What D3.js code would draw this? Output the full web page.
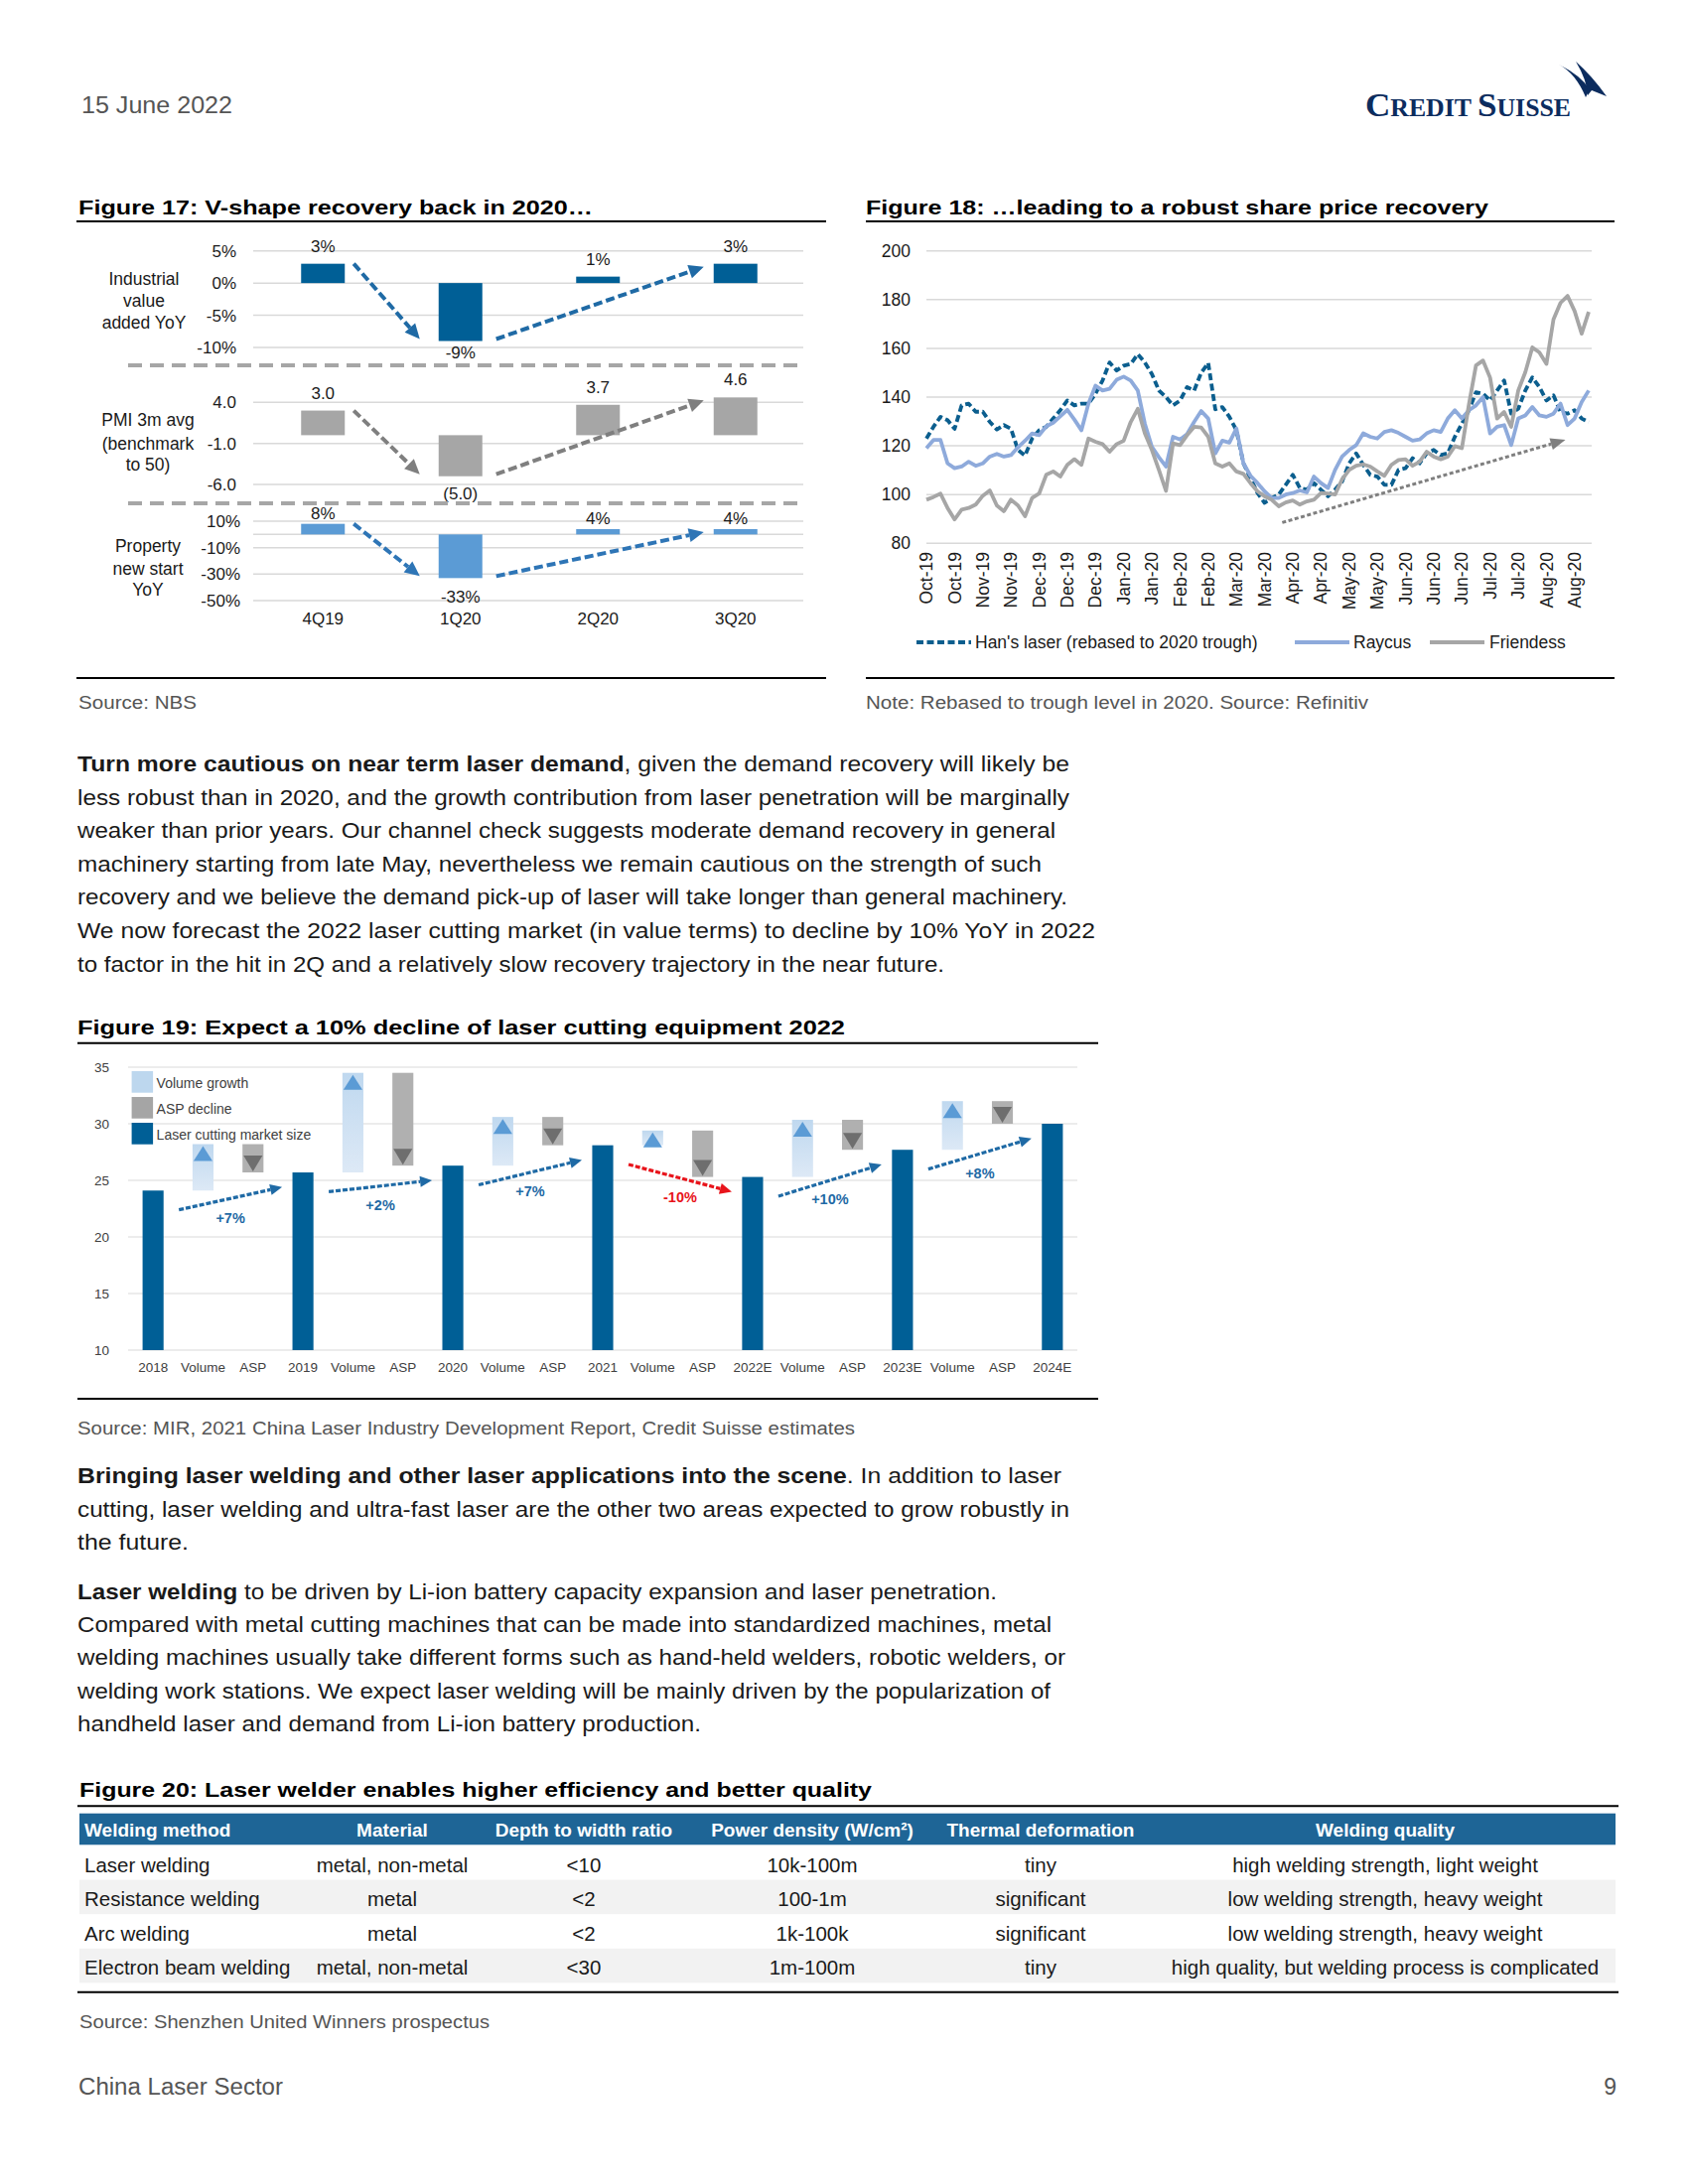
<!DOCTYPE html>
<html lang="en">
<head>
<meta charset="utf-8">
<style type="text/css">
    body { margin: 0; background: #fff; }
    svg { display: block; font-family: "Liberation Sans", Arial, sans-serif; }
    .body_text { font-size: 22px; fill: #1a1a1a; }
    .title_text { font-size: 21px; font-weight: bold; fill: #000; }
    .source_text { font-size: 18px; fill: #555; }
    .page_text { font-size: 23px; fill: #555; }
    .f17_text { font-size: 17px; fill: #1a1a1a; }
    .f18_text { font-size: 17.5px; fill: #1a1a1a; }
    .f19_text { font-size: 13.5px; fill: #404040; }
    .tbl_head { font-size: 19px; font-weight: bold; fill: #fff; }
    .tbl_cell { font-size: 20.5px; fill: #1a1a1a; }
    .logo_text { font-family: "Liberation Serif", serif; font-weight: bold; fill: #0c2c5e; }
</style>
</head>
<body>
<div id="page"></div>
<script src="https://cdnjs.cloudflare.com/ajax/libs/d3/7.8.5/d3.min.js"></script>
<script type="text/javascript">
// ---- Figure 17 data
var fig17Quarters = ["4Q19", "1Q20", "2Q20", "3Q20"];
var industrialYoY = [3, -9, 1, 3];
var pmi3mAvg = [3.0, -5.0, 3.7, 4.6];
var propertyYoY = [8, -33, 4, 4];

// ---- Figure 18 data (rebased share prices, sampled along the x axis)
var dateTicks = ["Oct-19", "Oct-19", "Nov-19", "Nov-19", "Dec-19", "Dec-19", "Dec-19", "Jan-20", "Jan-20",
    "Feb-20", "Feb-20", "Mar-20", "Mar-20", "Apr-20", "Apr-20", "May-20", "May-20", "Jun-20", "Jun-20",
    "Jun-20", "Jul-20", "Jul-20", "Aug-20", "Aug-20"];
var hansLaser = [123, 127.8, 131.9, 130.5, 127, 136.6, 137.3, 134, 134, 129.8, 126.7, 128.5, 127, 118.3, 116,
    123, 126.4, 127.8, 131.2, 134.6, 138.6, 136.6, 137.3, 137.3, 141.4, 146.8, 154.2, 150.9, 152.9, 153.6,
    157.6, 154.2, 149.5, 142.7, 140, 136.6, 138.6, 144.1, 142.7, 150, 154, 135, 135.9, 131.9, 126.4, 112.8,
    106.7, 100.6, 96.6, 98.6, 100, 104, 108.1, 102.7, 102, 104.7, 102, 99.3, 102, 105.4, 112.8, 116.9, 112.2,
    108.1, 107.4, 104, 104, 110.1, 110.8, 114.9, 112.8, 116.9, 118.3, 116.2, 116.9, 123.7, 129.1, 134.6, 142,
    141.4, 138.6, 142.7, 146.8, 133.2, 135.2, 142.7, 148.1, 144.1, 138.6, 140.7, 133.9, 133.2, 134.6, 131.2, 129.8];
var raycus = [119, 122.4, 122.4, 112.8, 110.8, 111.5, 113.5, 111.8, 112.8, 115.6, 116.7, 115.6, 116.2, 119.4,
    122.1, 125.1, 124.4, 128, 129.5, 132.1, 134.8, 130.8, 126.4, 137.3, 144.7, 142.7, 143.4, 147.1, 148.4, 146.8,
    142.7, 129.1, 119.6, 115.3, 111.5, 123.7, 122.6, 124.8, 129.8, 134.3, 131.2, 116.9, 122.1, 121.3, 127.1,
    112.8, 107.7, 104.7, 101.3, 98.6, 98.6, 100, 100.6, 101.7, 100.9, 107.4, 104.7, 102.7, 110.1, 115.6, 118.3,
    120.3, 125.1, 123.7, 123, 125.7, 126.4, 125.3, 123.7, 122.1, 122.6, 125.1, 126.4, 125.7, 131.2, 134.6, 131.2,
    134.6, 136.6, 140, 125.1, 127.8, 128.5, 120.3, 131.2, 132.5, 135.9, 132.5, 131.9, 133.2, 137.3, 128.5, 131.2,
    138, 142.7];
var friendess = [97.9, 99, 100.4, 94.5, 89.8, 93.8, 94.5, 95.9, 99.5, 101.7, 95.5, 93.2, 97.9, 95.5, 91.1, 98.6,
    100.4, 108.1, 109.5, 107.4, 112.2, 114.5, 112.2, 123, 121.7, 120.7, 117.6, 120.7, 122.1, 129.8, 135.2, 125.1,
    118.3, 110.1, 101.5, 121, 120.3, 124.4, 127.8, 127.5, 123.7, 112.8, 111.5, 112.8, 109.5, 108.5, 104.7, 101.3,
    99.3, 97.9, 95.2, 96.8, 97.6, 95.9, 97.2, 97.9, 100.6, 100.4, 100, 106.3, 110.1, 111.8, 112.4, 111.5, 109.5,
    107.7, 112.2, 114.2, 114.5, 111.8, 113.5, 117.6, 115.6, 114.5, 115.6, 119.9, 119, 137, 153, 155, 148, 131.2,
    133.9, 127.8, 142.7, 150.2, 160.4, 158.3, 153.6, 171.9, 178.7, 181.5, 175.3, 166, 175];
var trendFrom = [50.5, 88.5];   // [index, value]
var trendTo = [90.7, 122.5];

// ---- Figure 19 data (RMB bn)
var fig19Categories = ["2018", "Volume", "ASP", "2019", "Volume", "ASP", "2020", "Volume", "ASP", "2021",
    "Volume", "ASP", "2022E", "Volume", "ASP", "2023E", "Volume", "ASP", "2024E"];
var marketSize = [24.1, 25.7, 26.3, 28.1, 25.3, 27.7, 30.0];
var volumeTop = [28.2, 34.5, 30.6, 29.4, 30.35, 32.0];
var growthLabels = ["+7%", "+2%", "+7%", "-10%", "+10%", "+8%"];

// ---- Figure 20 data
var tableColumns = ["Welding method", "Material", "Depth to width ratio", "Power density (W/cm²)",
    "Thermal deformation", "Welding quality"];
var tableRows = [
    ["Laser welding", "metal, non-metal", "<10", "10k-100m", "tiny", "high welding strength, light weight"],
    ["Resistance welding", "metal", "<2", "100-1m", "significant", "low welding strength, heavy weight"],
    ["Arc welding", "metal", "<2", "1k-100k", "significant", "low welding strength, heavy weight"],
    ["Electron beam welding", "metal, non-metal", "<30", "1m-100m", "tiny", "high quality, but welding process is complicated"]
];

var svg = d3.select("#page").append("svg")
    .attr("width", 1700)
    .attr("height", 2200);
svg.append("rect").attr("width", 1700).attr("height", 2200).attr("fill", "#fff");

function textLine(x, y, parts, width, cls) {
    var t = svg.append("text").attr("x", x).attr("y", y).attr("class", cls);
    parts.forEach(function(p) {
        t.append("tspan").text(p[0]).style("font-weight", p[1] ? "bold" : null);
    });
    if (width) t.attr("textLength", width).attr("lengthAdjust", "spacingAndGlyphs");
    return t;
}
function rule(x1, x2, y) {
    svg.append("line").attr("x1", x1).attr("x2", x2).attr("y1", y).attr("y2", y)
        .attr("stroke", "#000").attr("stroke-width", 2);
}
function arrow(g, x1, y1, x2, y2, color, w, dash, hl, hw) {
    var a = Math.atan2(y2 - y1, x2 - x1);
    var bx = x2 - hl * Math.cos(a), by = y2 - hl * Math.sin(a);
    g.append("line").attr("x1", x1).attr("y1", y1).attr("x2", bx).attr("y2", by)
        .attr("stroke", color).attr("stroke-width", w).attr("stroke-dasharray", dash);
    var px = -Math.sin(a) * hw / 2, py = Math.cos(a) * hw / 2;
    g.append("path")
        .attr("d", "M" + x2 + "," + y2 + "L" + (bx + px) + "," + (by + py) + "L" + (bx - px) + "," + (by - py) + "Z")
        .attr("fill", color);
}
function oneDec(d) { return d.toFixed(1); }

// ---- page header / footer
textLine(82, 114, [["15 June 2022"]], 152, "page_text");
var logo = svg.append("text").attr("x", 1375).attr("y", 117).attr("class", "logo_text")
    .attr("textLength", 207).attr("lengthAdjust", "spacingAndGlyphs");
[["C", 34], ["REDIT ", 25], ["S", 34], ["UISSE", 25]].forEach(function(p) {
    logo.append("tspan").text(p[0]).style("font-size", p[1] + "px");
});
svg.append("path").attr("fill", "#0c2c5e")
    .attr("d", "M1570,65 Q1587,74 1597,98 L1601,90 Q1592,76 1570,65 Z");
svg.append("path").attr("fill", "#0c2c5e")
    .attr("d", "M1587,62 Q1603,76 1618,97 L1603,91 L1599,96 Q1598,80 1587,62 Z");
textLine(79, 2110, [["China Laser Sector"]], 206, "page_text");
svg.append("text").attr("x", 1628).attr("y", 2110).attr("class", "page_text").attr("text-anchor", "end").text("9");

// ---- Figure 17
textLine(79, 216, [["Figure 17: V-shape recovery back in 2020…"]], 518, "title_text");
rule(77, 832, 223);
rule(77, 832, 683);
textLine(79, 714, [["Source: NBS"]], 119, "source_text");

var f17 = svg.append("g");
var f17x = d3.scalePoint().domain(fig17Quarters).range([256, 810]).padding(0.5);
var panels = [
    { values: industrialYoY, y: d3.scaleLinear().domain([-10, 5]).range([350, 252.7]), ticks: [5, 0, -5, -10],
      tickFmt: function(d) { return d + "%"; }, valFmt: function(d) { return d + "%"; },
      color: "#005f96", arrowColor: "#1f6aa5", tickX: 238, gapPos: 18, gapNeg: 12,
      label: ["Industrial", "value", "added YoY"], labelY: [281, 303, 325], labelX: 145 },
    { values: pmi3mAvg, y: d3.scaleLinear().domain([-6, 4]).range([488, 405.3]), ticks: [4, -1, -6],
      tickFmt: oneDec, valFmt: function(d) { return d < 0 ? "(" + oneDec(-d) + ")" : oneDec(d); },
      color: "#a6a6a6", arrowColor: "#7f7f7f", tickX: 238, gapPos: 18, gapNeg: 17,
      label: ["PMI 3m avg", "(benchmark", "to 50)"], labelY: [423, 446.7, 468], labelX: 149 },
    { values: propertyYoY, y: d3.scaleLinear().domain([-50, 10]).range([605, 525]), ticks: [10, -10, -30, -50],
      tickFmt: function(d) { return d + "%"; }, valFmt: function(d) { return d + "%"; },
      color: "#5b9bd5", arrowColor: "#2e75b6", tickX: 242, gapPos: 11, gapNeg: 19, zeroLine: true,
      label: ["Property", "new start", "YoY"], labelY: [550, 572.7, 594], labelX: 149 }
];

panels.forEach(function(p) {
    var ticks = p.zeroLine ? p.ticks.concat([0]) : p.ticks;
    f17.selectAll()
        .data(ticks)
        .enter()
        .append("line")
        .attr("x1", 255).attr("x2", 809)
        .attr("y1", function(d) { return p.y(d); })
        .attr("y2", function(d) { return p.y(d); })
        .attr("stroke", "#d9d9d9").attr("stroke-width", 1.5);
    f17.selectAll()
        .data(p.ticks)
        .enter()
        .append("text")
        .attr("class", "f17_text")
        .attr("x", p.tickX)
        .attr("y", function(d) { return p.y(d); })
        .attr("dy", "0.35em")
        .attr("text-anchor", "end")
        .text(p.tickFmt);
    f17.selectAll()
        .data(p.values)
        .enter()
        .append("rect")
        .attr("x", function(d, i) { return f17x(fig17Quarters[i]) - 22; })
        .attr("width", 44)
        .attr("y", function(d) { return Math.min(p.y(d), p.y(0)); })
        .attr("height", function(d) { return Math.abs(p.y(d) - p.y(0)); })
        .attr("fill", p.color);
    f17.selectAll()
        .data(p.values)
        .enter()
        .append("text")
        .attr("class", "f17_text")
        .attr("x", function(d, i) { return f17x(fig17Quarters[i]); })
        .attr("y", function(d) { return d >= 0 ? p.y(d) - p.gapPos : p.y(d) + p.gapNeg; })
        .attr("dy", "0.35em")
        .attr("text-anchor", "middle")
        .text(p.valFmt);
    p.label.forEach(function(s, k) {
        f17.append("text").attr("class", "f17_text").style("font-size", "17.5px")
            .attr("x", p.labelX).attr("y", p.labelY[k]).attr("dy", "0.35em")
            .attr("text-anchor", "middle").text(s);
    });
    var v = p.values, q = fig17Quarters;
    arrow(f17, f17x(q[0]) + 31, p.y(v[0]), f17x(q[1]) - 41, p.y(v[1]) - 2, p.arrowColor, 4, "9,4", 15, 14);
    arrow(f17, f17x(q[1]) + 36, p.y(v[1]) - 2, f17x(q[3]) - 32, p.y(v[3]) + 3, p.arrowColor, 4, "9,4", 15, 14);
});
[368, 507].forEach(function(y) {
    f17.append("line").attr("x1", 129).attr("x2", 809).attr("y1", y).attr("y2", y)
        .attr("stroke", "#a6a6a6").attr("stroke-width", 4).attr("stroke-dasharray", "14,8");
});
f17.selectAll()
    .data(fig17Quarters)
    .enter()
    .append("text")
    .attr("class", "f17_text")
    .attr("x", function(d) { return f17x(d); })
    .attr("y", 623)
    .attr("dy", "0.35em")
    .attr("text-anchor", "middle")
    .text(function(d) { return d; });

// ---- Figure 18
textLine(872, 216, [["Figure 18: …leading to a robust share price recovery"]], 627, "title_text");
rule(872, 1626, 223);
rule(872, 1626, 683);
textLine(872, 714, [["Note: Rebased to trough level in 2020. Source: Refinitiv"]], 506, "source_text");

var f18 = svg.append("g");
var f18x = d3.scaleLinear().domain([0, hansLaser.length - 1]).range([933, 1600]);
var f18y = d3.scaleLinear().domain([80, 200]).range([547.3, 252.7]);
var f18ticks = d3.range(80, 201, 20);
f18.selectAll()
    .data(f18ticks)
    .enter()
    .append("line")
    .attr("x1", 933).attr("x2", 1603)
    .attr("y1", function(d) { return f18y(d); })
    .attr("y2", function(d) { return f18y(d); })
    .attr("stroke", "#d9d9d9").attr("stroke-width", 1.5);
f18.selectAll()
    .data(f18ticks)
    .enter()
    .append("text")
    .attr("class", "f18_text")
    .attr("x", 917)
    .attr("y", function(d) { return f18y(d); })
    .attr("dy", "0.35em")
    .attr("text-anchor", "end")
    .text(function(d) { return d; });
f18.selectAll()
    .data(dateTicks)
    .enter()
    .append("text")
    .attr("class", "f18_text")
    .attr("transform", function(d, k) { return "translate(" + f18x(k * 4) + ",556) rotate(-90)"; })
    .attr("dy", "0.35em")
    .attr("text-anchor", "end")
    .text(function(d) { return d; });

var series = [
    { name: "Han's laser (rebased to 2020 trough)", values: hansLaser, color: "#0b5e8e", dash: "7,3.5", lx: 923, tx: 982 },
    { name: "Raycus", values: raycus, color: "#8eaadb", dash: null, lx: 1304, tx: 1363 },
    { name: "Friendess", values: friendess, color: "#a6a6a6", dash: null, lx: 1440, tx: 1500 }
];
var line = d3.line()
    .x(function(d, i) { return f18x(i); })
    .y(function(d) { return f18y(d); });
series.forEach(function(s) {
    f18.append("path")
        .attr("d", line(s.values))
        .attr("fill", "none")
        .attr("stroke", s.color)
        .attr("stroke-width", 3.8)
        .attr("stroke-linejoin", "round")
        .attr("stroke-dasharray", s.dash);
    f18.append("line").attr("x1", s.lx).attr("x2", s.lx + 55).attr("y1", 647).attr("y2", 647)
        .attr("stroke", s.color).attr("stroke-width", 3.8).attr("stroke-dasharray", s.dash);
    f18.append("text").attr("class", "f18_text").attr("x", s.tx).attr("y", 647).attr("dy", "0.35em").text(s.name);
});
arrow(f18, f18x(trendFrom[0]), f18y(trendFrom[1]), f18x(trendTo[0]), f18y(trendTo[1]), "#7f7f7f", 3, "4,2.5", 15, 12);

// ---- body text 1
var para1 = [
    [["Turn more cautious on near term laser demand", true], [", given the demand recovery will likely be"]],
    [["less robust than in 2020, and the growth contribution from laser penetration will be marginally"]],
    [["weaker than prior years. Our channel check suggests moderate demand recovery in general"]],
    [["machinery starting from late May, nevertheless we remain cautious on the strength of such"]],
    [["recovery and we believe the demand pick-up of laser will take longer than general machinery."]],
    [["We now forecast the 2022 laser cutting market (in value terms) to decline by 10% YoY in 2022"]],
    [["to factor in the hit in 2Q and a relatively slow recovery trajectory in the near future."]]
];
var para1W = [999, 999, 985, 971, 997, 1025, 873];
para1.forEach(function(l, k) { textLine(78, 777 + 33.6 * k, l, para1W[k], "body_text"); });

// ---- Figure 19
textLine(78, 1042, [["Figure 19: Expect a 10% decline of laser cutting equipment 2022"]], 773, "title_text");
rule(78, 1106, 1050.7);
rule(78, 1106, 1409);
textLine(78, 1445, [["Source: MIR, 2021 China Laser Industry Development Report, Credit Suisse estimates"]], 783, "source_text");

var f19 = svg.append("g");
var defs = svg.append("defs");
var grad = defs.append("linearGradient").attr("id", "volGrad").attr("x1", 0).attr("x2", 0).attr("y1", 0).attr("y2", 1);
grad.append("stop").attr("offset", "0%").attr("stop-color", "#bfd8ef");
grad.append("stop").attr("offset", "100%").attr("stop-color", "#dde9f6");

var f19x = d3.scaleBand().domain(d3.range(fig19Categories.length)).range([129, 1085])
    .paddingInner(0.58).paddingOuter(0.29);
var f19y = d3.scaleLinear().domain([10, 35]).range([1360, 1075]);
var bw = f19x.bandwidth();
var f19ticks = d3.range(10, 36, 5);
f19.selectAll()
    .data(f19ticks)
    .enter()
    .append("line")
    .attr("x1", 129).attr("x2", 1085)
    .attr("y1", function(d) { return f19y(d); })
    .attr("y2", function(d) { return f19y(d); })
    .attr("stroke", "#d9d9d9").attr("stroke-width", 1.2);
f19.selectAll()
    .data(f19ticks)
    .enter()
    .append("text")
    .attr("class", "f19_text")
    .attr("x", 110)
    .attr("y", function(d) { return f19y(d); })
    .attr("dy", "0.35em")
    .attr("text-anchor", "end")
    .text(function(d) { return d; });
f19.selectAll()
    .data(fig19Categories)
    .enter()
    .append("text")
    .attr("class", "f19_text")
    .attr("x", function(d, i) { return f19x(i) + bw / 2; })
    .attr("y", 1377)
    .attr("dy", "0.35em")
    .attr("text-anchor", "middle")
    .text(function(d) { return d; });

// market size bars
f19.selectAll()
    .data(marketSize)
    .enter()
    .append("rect")
    .attr("x", function(d, k) { return f19x(k * 3); })
    .attr("width", bw)
    .attr("y", function(d) { return f19y(d); })
    .attr("height", function(d) { return f19y(10) - f19y(d); })
    .attr("fill", "#005f96");
// volume growth bars
f19.selectAll()
    .data(volumeTop)
    .enter()
    .append("rect")
    .attr("x", function(d, k) { return f19x(k * 3 + 1); })
    .attr("width", bw)
    .attr("y", function(d) { return f19y(d); })
    .attr("height", function(d, k) { return f19y(marketSize[k]) - f19y(d); })
    .attr("fill", "url(#volGrad)");
f19.selectAll()
    .data(volumeTop)
    .enter()
    .append("path")
    .attr("fill", "#5b9bd5")
    .attr("d", function(d, k) {
        var x0 = f19x(k * 3 + 1), t = f19y(d);
        return "M" + (x0 + bw / 2) + "," + (t + 2) + "L" + (x0 + bw - 1) + "," + (t + 17) + "L" + (x0 + 1) + "," + (t + 17) + "Z";
    });
// ASP decline bars
f19.selectAll()
    .data(volumeTop)
    .enter()
    .append("rect")
    .attr("x", function(d, k) { return f19x(k * 3 + 2); })
    .attr("width", bw)
    .attr("y", function(d) { return f19y(d); })
    .attr("height", function(d, k) { return f19y(marketSize[k + 1]) - f19y(d); })
    .attr("fill", "#b0b0b0");
f19.selectAll()
    .data(volumeTop)
    .enter()
    .append("path")
    .attr("fill", "#6e6e6e")
    .attr("d", function(d, k) {
        var x0 = f19x(k * 3 + 2), b = f19y(marketSize[k + 1]);
        return "M" + (x0 + bw / 2) + "," + (b - 1) + "L" + (x0 + bw - 1) + "," + (b - 17) + "L" + (x0 + 1) + "," + (b - 17) + "Z";
    });
// growth arrows between years
growthLabels.forEach(function(lbl, k) {
    var col = lbl.charAt(0) === "-" ? "#e8141b" : "#1f6aa5";
    var x1 = f19x(k * 3) + bw / 2 + 26, x2 = f19x(k * 3 + 3) + bw / 2 - 21;
    var y1 = f19y(marketSize[k] - 1.7), y2 = f19y(marketSize[k + 1] - 1.3);
    arrow(f19, x1, y1, x2, y2, col, 3.2, "5,2", 12, 11);
    f19.append("text")
        .attr("x", (x1 + x2) / 2)
        .attr("y", f19y((marketSize[k] + marketSize[k + 1]) / 2 - 1.5 - 1.7))
        .attr("dy", "0.35em")
        .attr("text-anchor", "middle")
        .style("font-size", "14.5px").style("font-weight", "bold").style("fill", col)
        .text(lbl);
});
// legend
var f19legend = [["Volume growth", "#bdd7ee"], ["ASP decline", "#a5a5a5"], ["Laser cutting market size", "#005f96"]];
f19.selectAll(".legend")
    .data(f19legend)
    .enter()
    .append("g")
    .attr("class", "legend")
    .attr("transform", function(d, i) { return "translate(132.6," + (1079 + i * 26) + ")"; })
    .each(function(d) {
        d3.select(this).append("rect").attr("width", 21.5).attr("height", 21.7).attr("fill", d[1]);
        d3.select(this).append("text").attr("class", "f19_text").style("font-size", "14px")
            .attr("x", 25).attr("y", 12).attr("dy", "0.35em").text(d[0]);
    });

// ---- body text 2
var para2 = [
    [["Bringing laser welding and other laser applications into the scene", true], [". In addition to laser"]],
    [["cutting, laser welding and ultra-fast laser are the other two areas expected to grow robustly in"]],
    [["the future."]]
];
var para2W = [991, 999, 112];
para2.forEach(function(l, k) { textLine(78, 1494 + 33.6 * k, l, para2W[k], "body_text"); });
var para3 = [
    [["Laser welding", true], [" to be driven by Li-ion battery capacity expansion and laser penetration."]],
    [["Compared with metal cutting machines that can be made into standardized machines, metal"]],
    [["welding machines usually take different forms such as hand-held welders, robotic welders, or"]],
    [["welding work stations. We expect laser welding will be mainly driven by the popularization of"]],
    [["handheld laser and demand from Li-ion battery production."]]
];
var para3W = [926, 981, 995, 980, 628];
para3.forEach(function(l, k) { textLine(78, 1611 + 33.2 * k, l, para3W[k], "body_text"); });

// ---- Figure 20 table
textLine(80, 1810, [["Figure 20: Laser welder enables higher efficiency and better quality"]], 798, "title_text");
rule(78, 1630, 1819.3);
rule(78, 1630, 2006.7);
textLine(80, 2043, [["Source: Shenzhen United Winners prospectus"]], 413, "source_text");

var colX = [85, 395, 588, 818, 1048, 1395];
var colAnchor = ["start", "middle", "middle", "middle", "middle", "middle"];
var tbl = svg.append("g");
tbl.append("rect").attr("x", 80).attr("y", 1826.7).attr("width", 1547).attr("height", 31.6).attr("fill", "#1e6596");
tbl.selectAll()
    .data(tableColumns)
    .enter()
    .append("text")
    .attr("class", "tbl_head")
    .attr("x", function(d, i) { return colX[i]; })
    .attr("y", 1843)
    .attr("dy", "0.35em")
    .attr("text-anchor", function(d, i) { return colAnchor[i]; })
    .text(function(d) { return d; });
tableRows.forEach(function(row, r) {
    var top = 1859 + r * 34.6;
    if (r % 2 === 1) {
        tbl.append("rect").attr("x", 80).attr("y", top).attr("width", 1547).attr("height", 34.6).attr("fill", "#f2f2f2");
    }
    tbl.selectAll()
        .data(row)
        .enter()
        .append("text")
        .attr("class", "tbl_cell")
        .attr("x", function(d, i) { return colX[i]; })
        .attr("y", top + 19.5)
        .attr("dy", "0.35em")
        .attr("text-anchor", function(d, i) { return colAnchor[i]; })
        .text(function(d) { return d; });
});
</script>
</body>
</html>
